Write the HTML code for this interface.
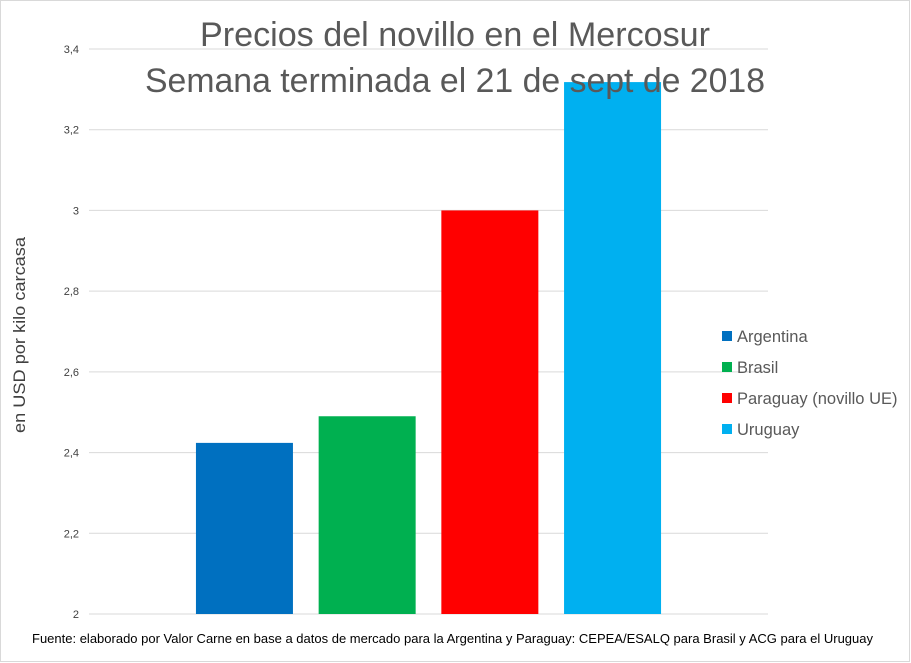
<!DOCTYPE html>
<html><head><meta charset="utf-8"><style>
html,body{margin:0;padding:0;background:#fff}
svg{display:block;font-family:"Liberation Sans",sans-serif}
</style></head><body>
<svg id="chart" width="911" height="663">
<rect x="0.5" y="0.5" width="909" height="661" fill="#fff" stroke="#d9d9d9"/>
<g id="grid"></g><g id="bars"></g>
<text x="455" y="46" text-anchor="middle" font-size="34" fill="#595959" textLength="510" lengthAdjust="spacingAndGlyphs">Precios del novillo en el Mercosur</text>
<text x="455" y="92" text-anchor="middle" font-size="34" fill="#595959" textLength="620" lengthAdjust="spacingAndGlyphs">Semana terminada el 21 de sept de 2018</text>
<text transform="translate(25,335) rotate(-90)" text-anchor="middle" font-size="17" fill="#404040" textLength="196" lengthAdjust="spacingAndGlyphs">en USD por kilo carcasa</text>
<g id="legend"></g>
<text x="32" y="643" font-size="13" fill="#000" textLength="841" lengthAdjust="spacingAndGlyphs">Fuente: elaborado por Valor Carne en base a datos de mercado para la Argentina y Paraguay: CEPEA/ESALQ para Brasil y ACG para el Uruguay</text>
</svg>
<script>
const categories=["Argentina","Brasil","Paraguay (novillo UE)","Uruguay"];
const values=[2.424,2.49,3.0,3.318];
const colors=["#0070c0","#00b050","#ff0000","#00b0f0"];
const ticks=[2,2.2,2.4,2.6,2.8,3,3.2,3.4];
const tickLabels=["2","2,2","2,4","2,6","2,8","3","3,2","3,4"];
const NS="http://www.w3.org/2000/svg";
const y0=614,y1=49,vmin=2,vmax=3.4,xL=89,xR=768;
const y=v=>y0-(v-vmin)/(vmax-vmin)*(y0-y1);
function mk(t,a,p){const e=document.createElementNS(NS,t);for(const k in a)e.setAttribute(k,a[k]);p.appendChild(e);return e;}
const g=document.getElementById('grid');
ticks.forEach((t,i)=>{
 const l=mk('line',{x1:xL,x2:xR,y1:y(t),y2:y(t),stroke:'#d9d9d9','stroke-width':1},g);
 
 
 const tx=mk('text',{x:79,y:y(t)+4,'text-anchor':'end','font-size':11,fill:'#404040'},g);
 tx.textContent=tickLabels[i];
 
 
});
const b=document.getElementById('bars');
const step=122.7,bw=97,c0=(xL+xR)/2-step*(categories.length-1)/2;
values.forEach((v,i)=>{
 const cx=c0+i*step;
 const r=mk('rect',{x:cx-bw/2,y:y(v),width:bw,height:y0-y(v),fill:colors[i]},b);
 
 
});
const lg=document.getElementById('legend');
categories.forEach((c,i)=>{
 const yy=336+i*31;
 const s=mk('rect',{x:722,y:yy-5,width:10,height:10,fill:colors[i]},lg);
 
 
 const t=mk('text',{x:737,y:yy+6,'font-size':16.5,fill:'#595959'},lg);
 t.textContent=c;
 
 
});
</script>
</body></html>
